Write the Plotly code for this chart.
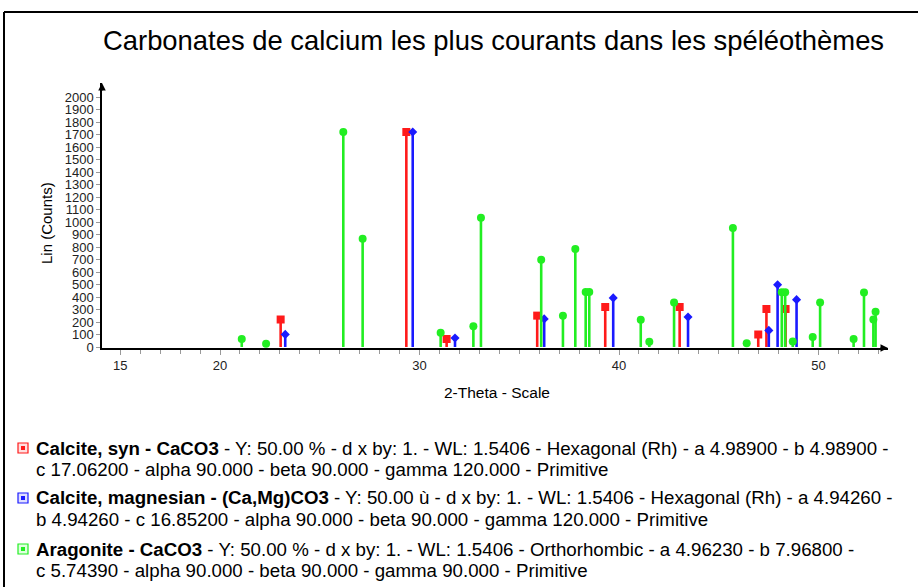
import plotly.graph_objects as go

# ---------------- data ----------------
calcite_syn_2theta = [23.04, 29.34, 31.36, 35.90, 39.31, 43.04, 46.98, 47.39, 48.35]
calcite_syn_counts = [220, 1720, 64, 251, 320, 320, 100, 304, 304]

calcite_mg_2theta = [23.27, 29.66, 31.78, 36.25, 39.71, 43.46, 47.51, 47.95, 48.90]
calcite_mg_counts = [101, 1720, 72, 225, 393, 240, 133, 498, 379]

aragonite_2theta = [21.09, 22.31, 26.18, 27.15, 31.06, 32.70, 33.08, 36.10, 37.19, 37.81,
                    38.33, 38.51, 41.09, 41.52, 42.76, 45.71, 46.40, 48.16, 48.33, 48.71,
                    49.71, 50.08, 51.76, 52.28, 52.75, 52.86]
aragonite_counts = [64, 27, 1720, 867, 115, 166, 1035, 699, 251, 785,
                    441, 441, 219, 43, 357, 952, 30, 438, 438, 44,
                    80, 356, 64, 437, 220, 283]

x_tick_vals = [15, 20, 30, 40, 50]
y_tick_vals = list(range(0, 2001, 100))

title_text = "Carbonates de calcium les plus courants dans les spéléothèmes"
x_title = "2-Theta - Scale"
y_title = "Lin (Counts)"

legend_lines = [
    ("<b>Calcite, syn - CaCO3</b> - Y: 50.00 % - d x by: 1. - WL: 1.5406 - Hexagonal (Rh) - a 4.98900 - b 4.98900 -",
     "c 17.06200 - alpha 90.000 - beta 90.000 - gamma 120.000 - Primitive"),
    ("<b>Calcite, magnesian - (Ca,Mg)CO3</b> - Y: 50.00 ù - d x by: 1. - WL: 1.5406 - Hexagonal (Rh) - a 4.94260 -",
     "b 4.94260 - c 16.85200 - alpha 90.000 - beta 90.000 - gamma 120.000 - Primitive"),
    ("<b>Aragonite - CaCO3</b> - Y: 50.00 % - d x by: 1. - WL: 1.5406 - Orthorhombic - a 4.96230 - b 7.96800 -",
     "c 5.74390 - alpha 90.000 - beta 90.000 - gamma 90.000 - Primitive"),
]

RED = "#ff1a1a"
BLUE = "#1a1aff"
GREEN = "#22ee22"
series_colors = [RED, BLUE, GREEN]
series_tints = ["#ffe0e0", "#e0e0ff", "#e0ffe0"]

# ---------------- layout geometry (pixels) ----------------
W, H = 918, 587
PL, PR, PT, PB = 102, 888, 83, 348  # plot area edges in px
FONT = "Liberation Sans, Arial, Helvetica, sans-serif"


def px_x(px):
    return (px - PL) / (PR - PL)


def px_y(py):
    return (PB - py) / (PB - PT)


def stem_trace(xs, ys, color, symbol, size):
    return go.Scatter(
        x=xs, y=ys, mode="markers",
        marker=dict(symbol=symbol, size=size, color=color, line=dict(width=0)),
        error_y=dict(type="data", symmetric=False, array=[0] * len(ys), arrayminus=ys,
                     width=0, thickness=2.6, color=color),
        showlegend=False, hoverinfo="x+y",
    )


fig = go.Figure()
fig.add_trace(stem_trace(calcite_syn_2theta, calcite_syn_counts, RED, "square", 8))
fig.add_trace(stem_trace(calcite_mg_2theta, calcite_mg_counts, BLUE, "diamond", 7))
fig.add_trace(stem_trace(aragonite_2theta, aragonite_counts, GREEN, "circle", 8))

annotations = [
    dict(text=title_text, x=px_x(493), y=px_y(40), xref="paper", yref="paper",
         showarrow=False, font=dict(family=FONT, size=27.4, color="black"),
         xanchor="center", yanchor="middle"),
    dict(text=x_title, x=px_x(497), y=px_y(392), xref="paper", yref="paper",
         showarrow=False, font=dict(family=FONT, size=15.5, color="black"),
         xanchor="center", yanchor="middle"),
    dict(text=y_title, x=px_x(46), y=px_y(223), xref="paper", yref="paper",
         showarrow=False, textangle=-90, font=dict(family=FONT, size=15, color="black"),
         xanchor="center", yanchor="middle"),
    # axis arrowheads
    dict(x=1, y=0, xref="paper", yref="paper", ax=-9, ay=0, axref="pixel", ayref="pixel",
         showarrow=True, arrowhead=2, arrowsize=1, arrowwidth=1.5, arrowcolor="black", text=""),
    dict(x=0, y=1, xref="paper", yref="paper", ax=0, ay=9, axref="pixel", ayref="pixel",
         showarrow=True, arrowhead=2, arrowsize=1, arrowwidth=1.5, arrowcolor="black", text=""),
]

shapes = [
    # outer frame (top and left)
    dict(type="line", xref="paper", yref="paper", x0=px_x(4), y0=px_y(12), x1=px_x(W + 5), y1=px_y(12),
         line=dict(color="black", width=2)),
    dict(type="line", xref="paper", yref="paper", x0=px_x(4), y0=px_y(12), x1=px_x(4), y1=px_y(H + 5),
         line=dict(color="black", width=2)),
]

legend_y = [(448, 469), (498, 519), (549, 570)]
for (l1, l2), (y1, y2), col, tint in zip(legend_lines, legend_y, series_colors, series_tints):
    annotations.append(dict(text=l1, x=px_x(34), y=px_y(y1), xref="paper", yref="paper",
                            showarrow=False, xanchor="left", yanchor="middle", align="left",
                            font=dict(family=FONT, size=18.7, color="black")))
    annotations.append(dict(text=l2, x=px_x(34), y=px_y(y2), xref="paper", yref="paper",
                            showarrow=False, xanchor="left", yanchor="middle", align="left",
                            font=dict(family=FONT, size=18.7, color="black")))
    shapes.append(dict(type="rect", xref="paper", yref="paper",
                       x0=px_x(18), x1=px_x(28), y0=px_y(y1 - 5), y1=px_y(y1 + 5),
                       line=dict(color=col, width=1.2), fillcolor=tint))
    shapes.append(dict(type="rect", xref="paper", yref="paper",
                       x0=px_x(21), x1=px_x(25), y0=px_y(y1 - 2), y1=px_y(y1 + 2),
                       line=dict(width=0), fillcolor=col))

x_lo = 20 - (220 - PL) / 19.95
x_hi = 20 + (PR - 220) / 19.95
y_lo = -(PB - 347) / 0.125
y_hi = (347 - PT) / 0.125

fig.update_layout(
    width=W, height=H,
    margin=dict(l=PL, r=W - PR, t=PT, b=H - PB, autoexpand=False),
    paper_bgcolor="white", plot_bgcolor="white",
    showlegend=False,
    font=dict(family=FONT, color="black"),
    annotations=annotations,
    shapes=shapes,
    xaxis=dict(range=[x_lo, x_hi], tickmode="array", tickvals=x_tick_vals,
               ticktext=[str(v) for v in x_tick_vals],
               showgrid=False, zeroline=False, showline=True, linecolor="black", linewidth=1.5,
               ticks="outside", ticklen=5, tickcolor="#999999", tickwidth=1,
               tickfont=dict(family=FONT, size=13, color="#222"),
               minor=dict(tickmode="linear", tick0=0, dtick=1, ticks="outside", ticklen=4,
                          tickcolor="#999999", showgrid=False)),
    yaxis=dict(range=[y_lo, y_hi], tickmode="array", tickvals=y_tick_vals,
               ticktext=[str(v) for v in y_tick_vals],
               showgrid=False, zeroline=False, showline=True, linecolor="black", linewidth=1.5,
               ticks="outside", ticklen=4, tickcolor="#999999", tickwidth=1,
               tickfont=dict(family=FONT, size=13, color="#222")),
)

fig.write_html(
    "out.html",
    config={"displayModeBar": False},
    post_script="document.body.style.margin='0px';document.body.style.overflow='hidden';",
)
